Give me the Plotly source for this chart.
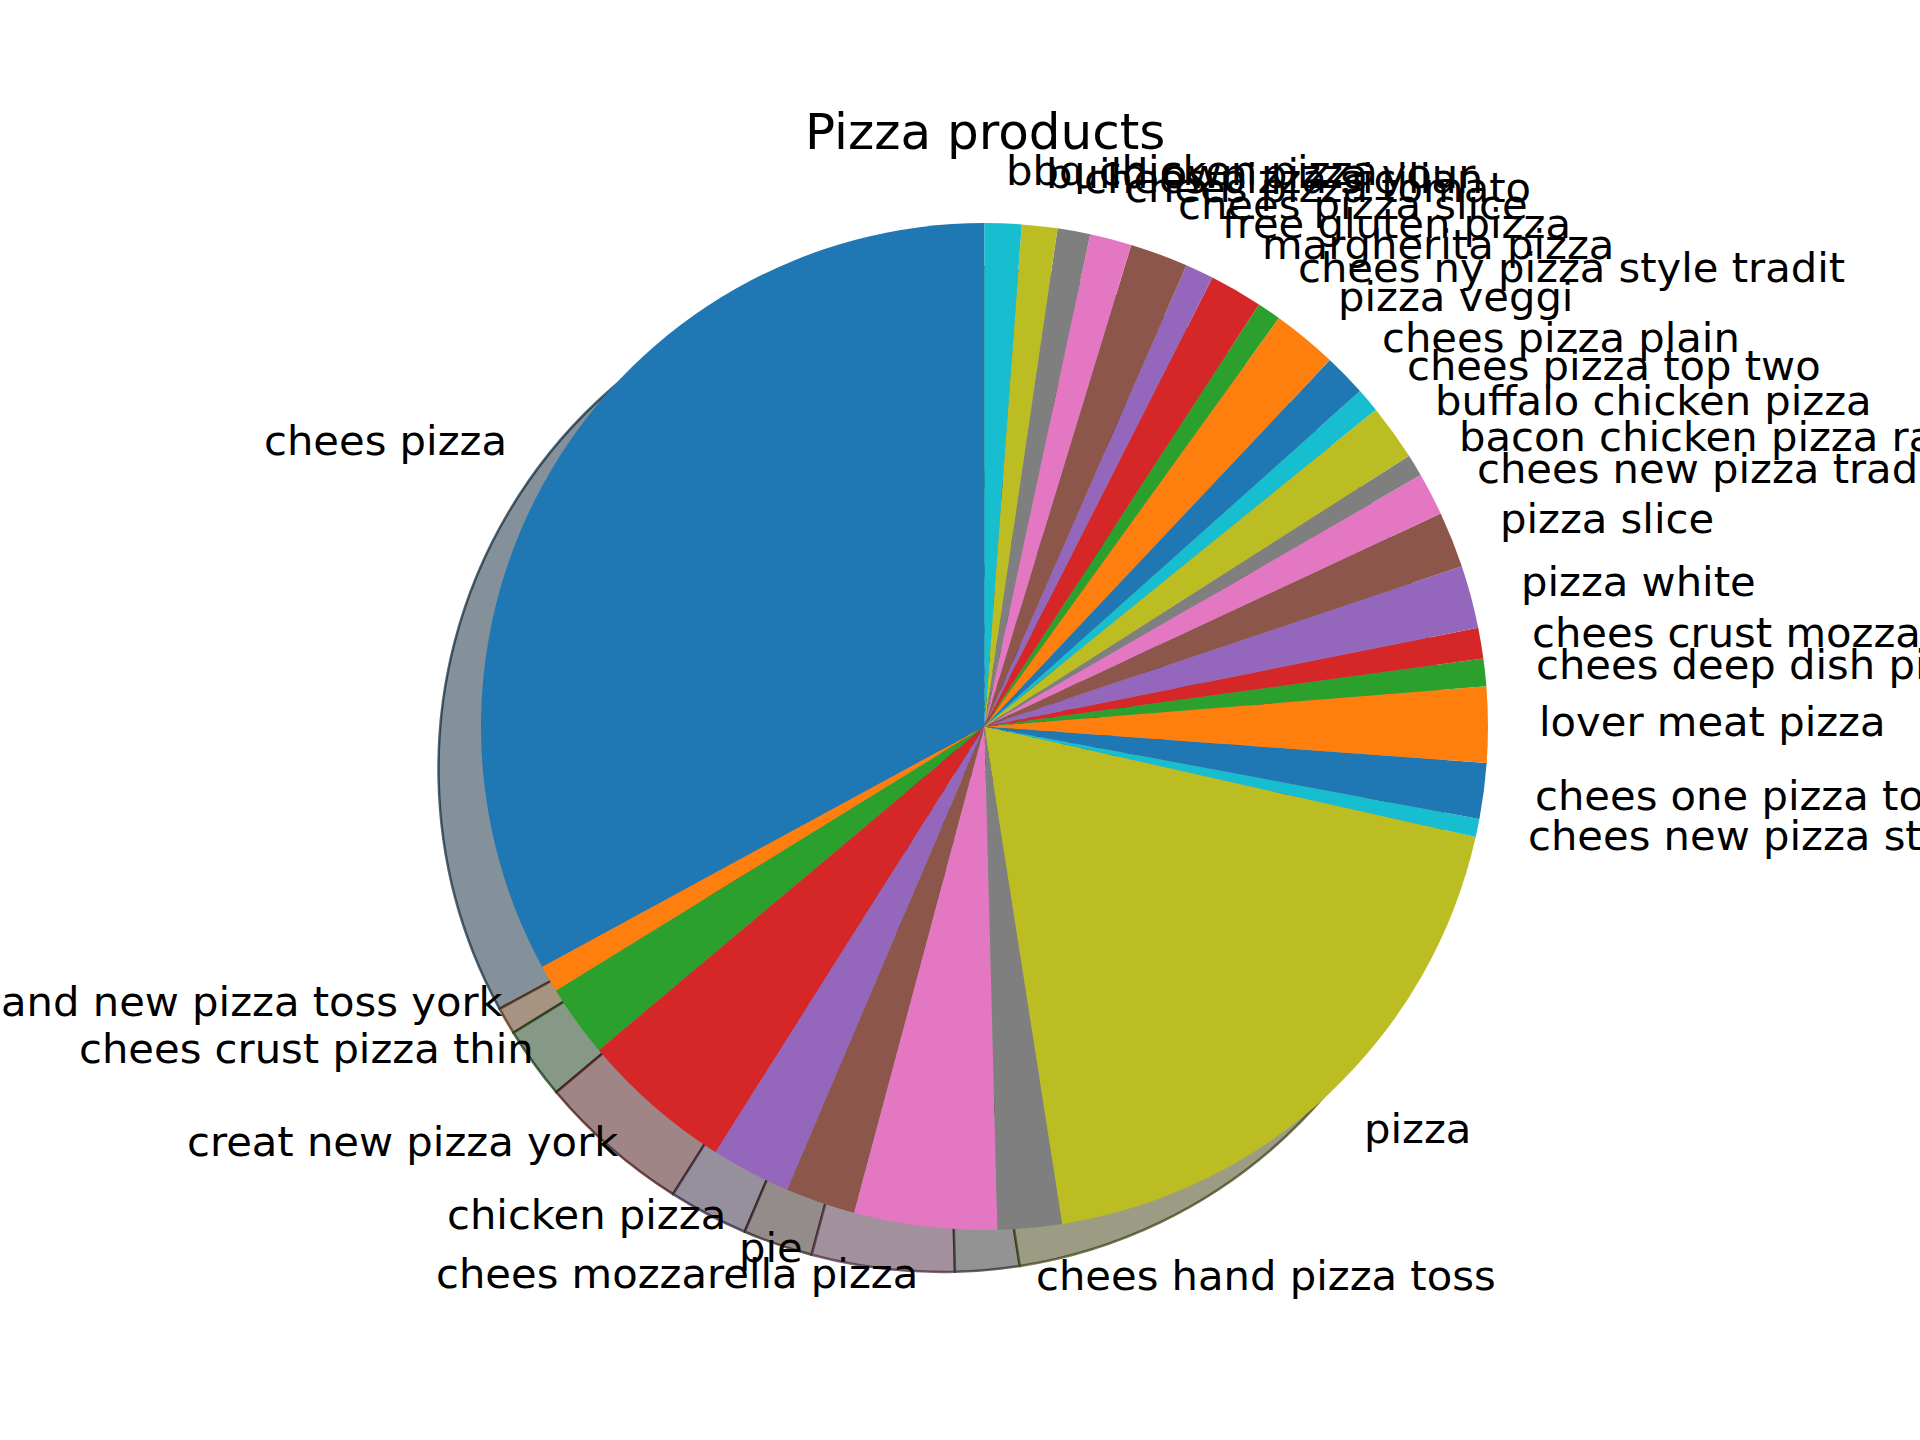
import math
import plotly.graph_objects as go

# ---------------- data ----------------
labels = [
    "chees pizza",
    "chees hand new pizza toss york",
    "chees crust pizza thin",
    "creat new pizza york",
    "chicken pizza",
    "pie",
    "chees mozzarella pizza",
    "chees hand pizza toss",
    "pizza",
    "chees new pizza style york",
    "chees one pizza top",
    "lover meat pizza",
    "chees deep dish pizza",
    "chees crust mozzarella pizza stuf",
    "pizza white",
    "pizza slice",
    "chees new pizza tradit york",
    "bacon chicken pizza ranch",
    "buffalo chicken pizza",
    "chees pizza top two",
    "chees pizza plain",
    "pizza veggi",
    "chees ny pizza style tradit",
    "margherita pizza",
    "free gluten pizza",
    "chees pizza slice",
    "chees pizza tomato",
    "chees pizza sicilian",
    "build own pizza your",
    "bbq chicken pizza",
]

shares = [
    32.93, 0.87, 2.32, 4.92, 2.56, 2.24, 4.58, 2.06, 19.01, 0.58,
    1.79, 2.43, 0.88, 0.99, 2.01, 1.80, 1.37, 0.71, 1.80, 0.77,
    1.37, 2.09, 0.76, 1.70, 0.91, 1.86, 1.34, 1.05, 1.14, 1.18,
]

title_text = "Pizza products"

# ---------------- styles ----------------
palette = ["#1f77b4", "#ff7f0e", "#2ca02c", "#d62728", "#9467bd",
           "#8c564b", "#e377c2", "#7f7f7f", "#bcbd22", "#17becf"]
colors = [palette[i % len(palette)] for i in range(len(labels))]

W, H = 1920, 1440
CX, CY, R = 984.5, 726.5, 503.5          # pie centre / radius in pixels
SDX, SDY = -42.5, 42.0                   # shadow offset in pixels
LABEL_DY = -2.5                          # small vertical nudge of labels
FONT = "DejaVu Sans"


def hex_rgb(h):
    h = h.lstrip("#")
    return [int(h[i:i + 2], 16) for i in (0, 2, 4)]


shadow_fill = []
shadow_line = []
for c in colors:
    r, g, b = hex_rgb(c)
    dark = [0.3 * r, 0.3 * g, 0.3 * b]
    shadow_fill.append("rgb(%d,%d,%d)" % tuple(round(255 - 0.5 * (255 - d)) for d in dark))
    shadow_line.append("rgba(%d,%d,%d,0.7)" % tuple(round(d) for d in dark))


def domain(cx, cy, rad):
    return dict(x=[(cx - rad) / W, (cx + rad) / W],
                y=[(H - cy - rad) / H, (H - cy + rad) / H])


total = float(sum(shares))
# plotly puts the first slice clockwise of 12 o'clock when counterclockwise;
# rotate so the first slice starts at 12 o'clock and runs counterclockwise
rot = -360.0 * shares[0] / total

fig = go.Figure()

# shadow
fig.add_trace(go.Pie(
    labels=labels, values=shares, sort=False, direction="counterclockwise",
    rotation=rot, textinfo="none", hoverinfo="skip", showlegend=False,
    marker=dict(colors=shadow_fill, line=dict(color=shadow_line, width=2.5)),
    domain=domain(CX + SDX, CY + SDY, R),
))

# main pie
fig.add_trace(go.Pie(
    labels=labels, values=shares, sort=False, direction="counterclockwise",
    rotation=rot, textinfo="none", showlegend=False,
    marker=dict(colors=colors, line=dict(width=0)),
    domain=domain(CX, CY, R),
))

# outside labels (matplotlib style: at 1.1 r on the mid angle)
annotations = []
cum = 0.0
for lab, v in zip(labels, shares):
    theta = math.radians(90 + 360.0 * (cum + v / 2.0) / total)
    cum += v
    px = CX + 1.1 * R * math.cos(theta)
    py = CY - 1.1 * R * math.sin(theta) + LABEL_DY
    annotations.append(dict(
        x=px / W, y=1 - py / H, xref="paper", yref="paper",
        text=lab, showarrow=False, borderpad=0,
        xanchor="left" if math.cos(theta) > 0 else "right",
        yanchor="middle",
        font=dict(family=FONT, size=41.7, color="black"),
    ))

annotations.append(dict(
    x=CX / W, y=1 - 132 / H, xref="paper", yref="paper",
    text=title_text, showarrow=False, xanchor="center", yanchor="middle",
    font=dict(family=FONT, size=50, color="black"),
))

fig.update_layout(
    width=W, height=H,
    margin=dict(l=0, r=0, t=0, b=0),
    paper_bgcolor="white", plot_bgcolor="white",
    annotations=annotations,
    showlegend=False,
)

fig.write_html("out.html")
